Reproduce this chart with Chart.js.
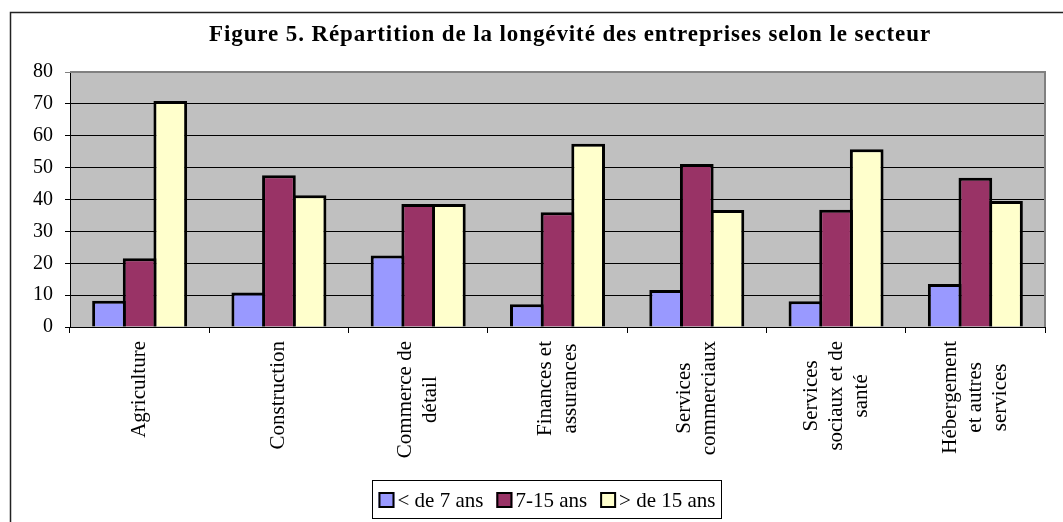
<!DOCTYPE html>
<html>
<head>
<meta charset="utf-8">
<script src="https://cdn.jsdelivr.net/npm/chart.js@4.4.0/dist/chart.umd.min.js"></script>
<style>
  body { margin: 0; background: #fff; }
  #wrap { width: 1063px; height: 522px; }
</style>
</head>
<body>
<div id="wrap"><canvas id="chart"></canvas></div>
<script>
// categories, one array of lines per sector
var categories = [
    ['Agriculture'],
    ['Construction'],
    ['Commerce de', 'détail'],
    ['Finances et', 'assurances'],
    ['Services', 'commerciaux'],
    ['Services', 'sociaux et de', 'santé'],
    ['Hébergement', 'et autres', 'services']
];
var seriesNames = ['< de 7 ans', '7-15 ans', '> de 15 ans'];
var moinsDe7 = [8.2, 10.8, 22.4, 7.1, 11.6, 8.1, 13.5];
var de7a15 = [21.6, 47.6, 38.6, 36.0, 51.1, 36.8, 46.8];
var plusDe15 = [70.9, 41.3, 38.6, 57.5, 36.7, 55.8, 39.5];
var yMin = 0, yMax = 80, yStep = 10;
var titleText = 'Figure 5. Répartition de la longévité des entreprises selon le secteur';

var colors = ['#9999FF', '#993366', '#FFFFCC'];
var serif = '"Liberation Serif", "Times New Roman", serif';

var decor = {
    id: 'decor',
    beforeDraw: function (chart) {
        var ctx = chart.ctx, a = chart.chartArea;
        ctx.save();
        ctx.fillStyle = '#fff';
        ctx.fillRect(0, 0, chart.width, chart.height);
        // outer frame (only top and left are visible)
        ctx.strokeStyle = '#222';
        ctx.lineWidth = 1.5;
        ctx.strokeRect(10.5, 12.5, chart.width + 20, chart.height + 20);
        ctx.fillStyle = '#C0C0C0';
        ctx.fillRect(a.left, a.top, a.right - a.left, a.bottom - a.top);
        ctx.restore();
    },
    beforeDatasetsDraw: function (chart) {
        var ctx = chart.ctx, a = chart.chartArea;
        ctx.save();
        ctx.strokeStyle = '#808080';
        ctx.lineWidth = 2;
        ctx.beginPath();
        ctx.moveTo(a.left, a.top);
        ctx.lineTo(a.right, a.top);
        ctx.lineTo(a.right, a.bottom);
        ctx.stroke();
        ctx.restore();
    },
    afterDraw: function (chart) {
        var ctx = chart.ctx, xs = chart.scales.x;
        ctx.save();
        ctx.fillStyle = '#000';

        // title
        ctx.font = 'bold 23px ' + serif;
        ctx.letterSpacing = '0.9px';
        ctx.textAlign = 'center';
        ctx.textBaseline = 'alphabetic';
        ctx.fillText(titleText, 570, 41);
        ctx.letterSpacing = '0px';

        // category labels, rotated, lines centred on each other
        ctx.font = '21px ' + serif;
        chart.data.labels.forEach(function (lines, i) {
            var x = xs.getPixelForTick(i);
            var widest = Math.max.apply(null, lines.map(function (l) { return ctx.measureText(l).width; }));
            ctx.save();
            ctx.translate(x, xs.top + 14);
            ctx.rotate(-Math.PI / 2);
            ctx.textAlign = 'center';
            ctx.textBaseline = 'middle';
            lines.forEach(function (line, j) {
                ctx.fillText(line, -widest / 2, (j - (lines.length - 1) / 2) * 25);
            });
            ctx.restore();
        });

        // legend in a framed box
        ctx.font = '21px ' + serif;
        ctx.textAlign = 'left';
        ctx.textBaseline = 'middle';
        var box = 16, pad = 3, gap = 13, items = chart.data.datasets;
        var total = 0;
        items.forEach(function (ds, i) {
            total += box + pad + ctx.measureText(ds.label).width + (i < items.length - 1 ? gap : 0);
        });
        var cx = 547, cy = 500;
        var left = cx - total / 2;
        ctx.strokeStyle = '#000';
        ctx.lineWidth = 1;
        ctx.strokeRect(Math.round(left - 6) + 0.5, 480.5, Math.round(total + 12), 38);
        var x = left;
        items.forEach(function (ds) {
            ctx.fillStyle = ds.backgroundColor;
            ctx.fillRect(x, cy - box / 2, box, box);
            ctx.lineWidth = 2;
            ctx.strokeRect(x + 1, cy - box / 2 + 1, box - 2, box - 2);
            ctx.fillStyle = '#000';
            ctx.fillText(ds.label, x + box + pad, cy + 1);
            x += box + pad + ctx.measureText(ds.label).width + gap;
        });
        ctx.restore();
    }
};

var ctx = document.getElementById('chart').getContext('2d');
var chart = new Chart(ctx, {
    type: 'bar',
    data: {
        labels: categories,
        datasets: [
            { label: seriesNames[0], data: moinsDe7, backgroundColor: colors[0] },
            { label: seriesNames[1], data: de7a15, backgroundColor: colors[1] },
            { label: seriesNames[2], data: plusDe15, backgroundColor: colors[2] }
        ]
    },
    options: {
        responsive: true,
        maintainAspectRatio: false,
        animation: false,
        layout: { padding: { top: 72, left: 10, right: 18, bottom: 0 } },
        datasets: {
            bar: {
                borderColor: '#000',
                borderWidth: 3,
                categoryPercentage: 0.66,
                barPercentage: 1.1
            }
        },
        plugins: {
            legend: { display: false },
            title: { display: false },
            tooltip: { enabled: false }
        },
        scales: {
            x: {
                afterFit: function (scale) { scale.height = 195; },
                grid: { drawOnChartArea: false, color: '#000', tickLength: 6, offset: true },
                border: { color: '#000', width: 1 },
                ticks: { display: false }
            },
            y: {
                min: yMin,
                max: yMax,
                afterFit: function (scale) { scale.width = 60; },
                grid: {
                    color: function (c) { return c.tick && c.tick.value === yMax ? '#808080' : '#000'; },
                    tickLength: 5
                },
                border: { color: '#000', width: 1 },
                ticks: {
                    stepSize: yStep,
                    color: '#000',
                    padding: 12,
                    font: { family: serif, size: 20 }
                }
            }
        }
    },
    plugins: [decor]
});
</script>
</body>
</html>
